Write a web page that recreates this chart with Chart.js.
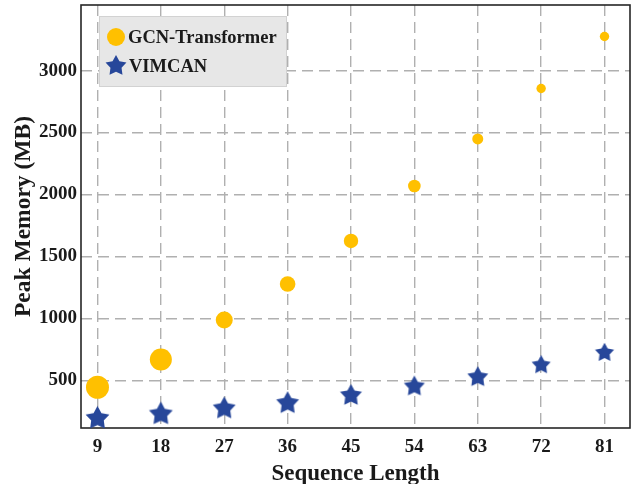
<!DOCTYPE html>
<html>
<head>
<meta charset="utf-8">
<script src="https://cdn.jsdelivr.net/npm/chart.js@4.4.0/dist/chart.umd.min.js"></script>
<style>
  html, body { margin: 0; padding: 0; background: #fff; }
</style>
</head>
<body>
<canvas id="memory-chart" width="635" height="484"></canvas>
<script>
// values
var seqLengths   = [9, 18, 27, 36, 45, 54, 63, 72, 81];
var gcnMemory    = [444, 668, 986, 1277, 1625, 2069, 2449, 2856, 3276];
var vimcanMemory = [201, 236, 280, 323, 385, 458, 533, 630, 729];
var xTicks = [9, 18, 27, 36, 45, 54, 63, 72, 81];
var yTicks = [500, 1000, 1500, 2000, 2500, 3000];

// marker sizes shrink with sequence length in the original
var gcnRadius  = [11.5, 11, 8.5, 7.8, 7.2, 6.3, 5.5, 4.7, 4.7];
var starRadius = [12.5, 12.5, 12, 12, 11.5, 11, 11, 10, 10];

var gold = '#ffc000';
var navy = '#27479a';
var serif = '"Liberation Serif", "Times New Roman", serif';

function makeStar(R, color) {
  var size = Math.ceil(R * 2 + 2);
  var c = document.createElement('canvas');
  c.width = size; c.height = size;
  var g = c.getContext('2d');
  var cx = size / 2, cy = size / 2 + R * 0.08, r = R * 0.53;
  g.beginPath();
  for (var i = 0; i < 10; i++) {
    var rad = (i % 2 === 0) ? R : r;
    var a = -Math.PI / 2 + i * Math.PI / 5;
    var px = cx + rad * Math.cos(a), py = cy + rad * Math.sin(a);
    if (i === 0) g.moveTo(px, py); else g.lineTo(px, py);
  }
  g.closePath();
  g.fillStyle = color;
  g.fill();
  return c;
}

function toPoints(xs, ys) {
  return xs.map(function(x, i) { return { x: x, y: ys[i] }; });
}

var frame = {
  id: 'frame',
  beforeDatasetsDraw: function(chart) {
    var a = chart.chartArea, ctx = chart.ctx;
    ctx.save();
    ctx.strokeStyle = '#262626';
    ctx.lineWidth = 1.6;
    ctx.strokeRect(a.left, a.top, a.right - a.left, a.bottom - a.top);
    ctx.restore();
  }
};

var boxLegend = {
  id: 'boxLegend',
  afterDraw: function(chart) {
    var ctx = chart.ctx;
    var sets = chart.data.datasets;
    ctx.save();
    ctx.fillStyle = '#e7e7e7';
    ctx.strokeStyle = '#d2d2d2';
    ctx.lineWidth = 1;
    ctx.fillRect(99.5, 16.5, 187, 70);
    ctx.strokeRect(99.5, 16.5, 187, 70);

    ctx.beginPath();
    ctx.arc(116, 37, 9, 0, Math.PI * 2);
    ctx.fillStyle = gold;
    ctx.fill();
    var st = makeStar(11, navy);
    ctx.drawImage(st, 116 - st.width / 2, 65 - st.height / 2);

    ctx.font = 'bold 18.5px ' + serif;
    ctx.textBaseline = 'middle';
    ctx.fillStyle = '#1a1a1a';
    ctx.fillText(sets[0].label, 128, 38);
    ctx.fillText(sets[1].label, 129, 67);
    ctx.restore();
  }
};

var tickFont = { family: serif, size: 19, weight: 'bold' };
var gridLines = { color: '#b0b0b0', lineWidth: 1.4, drawTicks: false, tickLength: 0 };
var dashed = { display: false, dash: [11, 6] };

new Chart(document.getElementById('memory-chart'), {
  type: 'scatter',
  data: {
    datasets: [{
      label: 'GCN-Transformer',
      data: toPoints(seqLengths, gcnMemory),
      backgroundColor: gold,
      borderWidth: 0,
      pointRadius: gcnRadius,
      pointHoverRadius: gcnRadius,
      clip: false
    }, {
      label: 'VIMCAN',
      data: toPoints(seqLengths, vimcanMemory),
      pointStyle: starRadius.map(function(R) { return makeStar(R, navy); }),
      backgroundColor: navy,
      borderWidth: 0,
      clip: false
    }]
  },
  options: {
    responsive: false,
    animation: false,
    layout: { autoPadding: false, padding: { top: 5, right: 5, left: 0, bottom: 0 } },
    plugins: { legend: { display: false }, tooltip: { enabled: false } },
    scales: {
      x: {
        type: 'linear',
        min: 6.66,
        max: 84.62,
        afterBuildTicks: function(scale) {
          scale.ticks = xTicks.map(function(v) { return { value: v }; });
        },
        afterFit: function(scale) {
          scale.height = 56;
          scale.paddingLeft = 0;
          scale.paddingRight = 0;
        },
        border: dashed,
        grid: gridLines,
        ticks: { font: tickFont, color: '#1a1a1a', padding: 8, maxRotation: 0 },
        title: {
          display: true, text: 'Sequence Length', color: '#1a1a1a',
          font: { family: serif, size: 23, weight: 'bold', lineHeight: 0.8 },
          padding: { top: 0, bottom: 0.3 }
        }
      },
      y: {
        min: 115,
        max: 3530,
        afterBuildTicks: function(scale) {
          scale.ticks = yTicks.map(function(v) { return { value: v }; });
        },
        afterFit: function(scale) {
          scale.width = 81;
          scale.paddingTop = 0;
          scale.paddingBottom = 0;
        },
        border: dashed,
        grid: gridLines,
        ticks: {
          font: tickFont, color: '#1a1a1a', padding: 4,
          callback: function(v) { return String(v); }
        },
        title: {
          display: true, text: 'Peak Memory (MB)', color: '#1a1a1a',
          font: { family: serif, size: 23.5, weight: 'bold', lineHeight: 1 },
          padding: { top: 12, bottom: 0 }
        }
      }
    }
  },
  plugins: [frame, boxLegend]
});
</script>
</body>
</html>
